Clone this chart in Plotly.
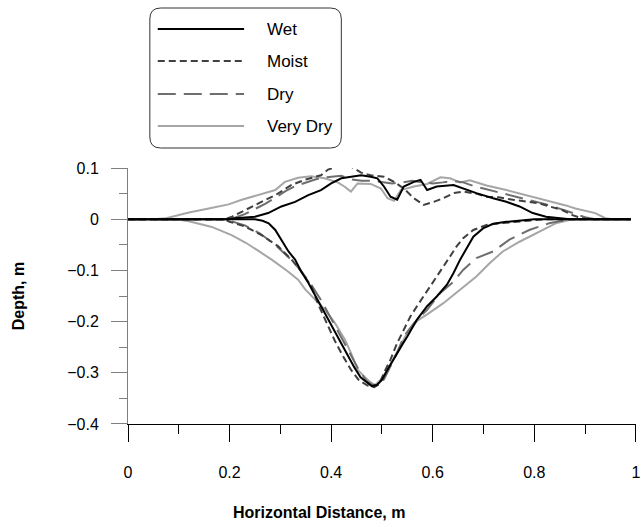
import plotly.graph_objects as go

# ---- data (x = horizontal distance m, y = depth m) ----
wet_bottom_x = [0, 0.25, 0.265, 0.277, 0.29, 0.302, 0.316, 0.329, 0.341, 0.355, 0.368, 0.38, 0.394,
                0.407, 0.419, 0.433, 0.446, 0.458, 0.47, 0.48, 0.49, 0.5, 0.511, 0.52, 0.53, 0.54,
                0.55, 0.569, 0.589, 0.608, 0.628, 0.641, 0.654, 0.667, 0.68, 0.699, 0.719, 0.745,
                0.784, 0.8, 0.99]
wet_bottom_y = [0, 0, -0.003, -0.008, -0.021, -0.04, -0.063, -0.079, -0.102, -0.124, -0.148, -0.17,
                -0.196, -0.219, -0.241, -0.268, -0.29, -0.309, -0.319, -0.326, -0.324, -0.314, -0.294,
                -0.278, -0.261, -0.245, -0.229, -0.196, -0.17, -0.151, -0.128, -0.105, -0.079, -0.057,
                -0.034, -0.018, -0.009, -0.005, -0.001, 0, 0]
wet_top_x = [0, 0.2, 0.211, 0.25, 0.276, 0.302, 0.329, 0.355, 0.38, 0.4, 0.42, 0.439, 0.459, 0.478,
             0.491, 0.504, 0.517, 0.53, 0.543, 0.563, 0.576, 0.589, 0.608, 0.641, 0.66, 0.686, 0.719,
             0.745, 0.771, 0.797, 0.823, 0.849, 0.87, 0.99]
wet_top_y = [0, 0, 0.002, 0.005, 0.012, 0.025, 0.034, 0.047, 0.057, 0.07, 0.08, 0.083, 0.086, 0.083,
             0.08, 0.064, 0.044, 0.038, 0.064, 0.073, 0.077, 0.057, 0.064, 0.067, 0.06, 0.051, 0.041,
             0.034, 0.025, 0.012, 0.005, 0.002, 0, 0]

moist_bottom_x = [0, 0.19, 0.2, 0.23, 0.263, 0.296, 0.322, 0.341, 0.361, 0.374, 0.39, 0.407, 0.423,
                  0.439, 0.455, 0.472, 0.485, 0.495, 0.504, 0.517, 0.53, 0.543, 0.556, 0.569, 0.582,
                  0.595, 0.608, 0.621, 0.634, 0.647, 0.66, 0.68, 0.706, 0.732, 0.764, 0.8, 0.82, 0.99]
moist_bottom_y = [0, 0, -0.005, -0.014, -0.031, -0.053, -0.079, -0.102, -0.131, -0.165, -0.2, -0.237,
                  -0.267, -0.294, -0.315, -0.325, -0.328, -0.322, -0.3, -0.274, -0.242, -0.216, -0.19,
                  -0.17, -0.151, -0.131, -0.112, -0.092, -0.073, -0.053, -0.037, -0.021, -0.011,
                  -0.008, -0.005, -0.001, 0, 0]
moist_top_x = [0, 0.19, 0.205, 0.224, 0.257, 0.29, 0.322, 0.348, 0.38, 0.394, 0.413, 0.439, 0.459,
               0.478, 0.504, 0.524, 0.543, 0.563, 0.582, 0.602, 0.621, 0.641, 0.66, 0.686, 0.706,
               0.73, 0.758, 0.79, 0.81, 0.83, 0.855, 0.875, 0.894, 0.91, 0.99]
moist_top_y = [0, 0, 0.005, 0.015, 0.031, 0.047, 0.067, 0.077, 0.086, 0.097, 0.103, 0.103, 0.091,
               0.086, 0.083, 0.073, 0.06, 0.041, 0.028, 0.034, 0.041, 0.051, 0.054, 0.05, 0.044,
               0.043, 0.038, 0.034, 0.031, 0.025, 0.018, 0.008, 0.002, 0, 0]

dry_bottom_x = [0, 0.19, 0.2, 0.23, 0.26, 0.29, 0.32, 0.34, 0.36, 0.38, 0.395, 0.41, 0.425, 0.44,
                0.455, 0.47, 0.483, 0.495, 0.504, 0.517, 0.53, 0.543, 0.563, 0.589, 0.615, 0.641,
                0.66, 0.686, 0.719, 0.751, 0.79, 0.829, 0.86, 0.88, 0.99]
dry_bottom_y = [0, 0, -0.003, -0.012, -0.028, -0.05, -0.078, -0.1, -0.127, -0.158, -0.185, -0.212,
                -0.24, -0.268, -0.295, -0.316, -0.325, -0.321, -0.313, -0.287, -0.261, -0.229,
                -0.203, -0.177, -0.144, -0.122, -0.099, -0.076, -0.063, -0.04, -0.021, -0.008,
                -0.002, 0, 0]
dry_top_x = [0, 0.19, 0.21, 0.23, 0.25, 0.27, 0.29, 0.31, 0.33, 0.35, 0.37, 0.39, 0.42, 0.44, 0.46,
             0.48, 0.5, 0.52, 0.54, 0.56, 0.58, 0.6, 0.62, 0.64, 0.66, 0.68, 0.7, 0.72, 0.74, 0.76,
             0.78, 0.8, 0.82, 0.84, 0.86, 0.88, 0.9, 0.92, 0.99]
dry_top_y = [0, 0, 0.003, 0.01, 0.02, 0.03, 0.042, 0.055, 0.065, 0.072, 0.078, 0.082, 0.085, 0.078,
             0.075, 0.075, 0.072, 0.07, 0.072, 0.075, 0.072, 0.07, 0.072, 0.075, 0.072, 0.065, 0.06,
             0.055, 0.05, 0.046, 0.04, 0.035, 0.03, 0.024, 0.017, 0.01, 0.004, 0, 0]

vdry_bottom_x = [0, 0.09, 0.101, 0.12, 0.165, 0.204, 0.232, 0.257, 0.283, 0.315, 0.335, 0.349, 0.368,
                 0.388, 0.407, 0.427, 0.439, 0.452, 0.466, 0.478, 0.487, 0.497, 0.511, 0.53, 0.55,
                 0.57, 0.589, 0.621, 0.654, 0.686, 0.712, 0.738, 0.771, 0.81, 0.842, 0.875, 0.99]
vdry_bottom_y = [0, 0, -0.001, -0.004, -0.015, -0.031, -0.046, -0.062, -0.079, -0.102, -0.118,
                 -0.137, -0.157, -0.177, -0.202, -0.235, -0.261, -0.294, -0.308, -0.319, -0.324,
                 -0.314, -0.294, -0.258, -0.222, -0.198, -0.186, -0.164, -0.138, -0.112, -0.086,
                 -0.063, -0.044, -0.024, -0.008, 0, 0]
vdry_top_x = [0, 0.05, 0.075, 0.12, 0.159, 0.198, 0.224, 0.257, 0.29, 0.309, 0.335, 0.36, 0.387,
              0.413, 0.426, 0.439, 0.452, 0.478, 0.498, 0.511, 0.524, 0.537, 0.563, 0.589, 0.615,
              0.634, 0.654, 0.673, 0.706, 0.745, 0.784, 0.823, 0.862, 0.881, 0.92, 0.94, 0.955, 0.99]
vdry_top_y = [0, 0, 0.002, 0.013, 0.021, 0.029, 0.038, 0.047, 0.057, 0.073, 0.081, 0.084, 0.08,
              0.072, 0.064, 0.054, 0.07, 0.069, 0.06, 0.041, 0.036, 0.057, 0.064, 0.069, 0.082,
              0.08, 0.072, 0.076, 0.066, 0.057, 0.047, 0.038, 0.027, 0.021, 0.012, 0.002, 0, 0]

names = ["Wet", "Moist", "Dry", "Very Dry"]
colors = ["#000000", "#404040", "#6e6e6e", "#a6a6a6"]
dashes = ["solid", "7px,4px", "18px,8px", "solid"]

curves = [
    (wet_bottom_x, wet_bottom_y, wet_top_x, wet_top_y),
    (moist_bottom_x, moist_bottom_y, moist_top_x, moist_top_y),
    (dry_bottom_x, dry_bottom_y, dry_top_x, dry_top_y),
    (vdry_bottom_x, vdry_bottom_y, vdry_top_x, vdry_top_y),
]

FONT = "Arial, Liberation Sans, sans-serif"

fig = go.Figure()
# lightest first so the darker lines sit on top
for i in [3, 2, 1, 0]:
    bx, by, tx, ty = curves[i]
    fig.add_trace(go.Scatter(
        x=bx + [None] + tx, y=by + [None] + ty, mode="lines", name=names[i],
        line=dict(color=colors[i], width=2, dash=dashes[i]), showlegend=False,
    ))

W, H = 641, 527
# plot area in pixels: x 128..640, y 168..424
L, R, T, B = 128, 640, 168, 424


def pxx(p):
    return (p - L) / (R - L)


def pxy(p):
    return (B - p) / (B - T)


def rounded_box(x0, y0, x1, y1, r):
    pts = [("M", x0 + r, y0), ("L", x1 - r, y0), ("Q", x1, y0, x1, y0 + r), ("L", x1, y1 - r),
           ("Q", x1, y1, x1 - r, y1), ("L", x0 + r, y1), ("Q", x0, y1, x0, y1 - r),
           ("L", x0, y0 + r), ("Q", x0, y0, x0 + r, y0)]
    out = []
    for p in pts:
        cmd, vals = p[0], p[1:]
        coords = []
        for k in range(0, len(vals), 2):
            coords.append(f"{pxx(vals[k]):.5f},{pxy(vals[k + 1]):.5f}")
        out.append(cmd + " ".join(coords))
    return " ".join(out) + " Z"


# legend box drawn by hand (long line samples like the original)
fig.add_shape(type="path", xref="paper", yref="paper", path=rounded_box(150, 8, 343, 148, 11),
              line=dict(color="#333333", width=1), fillcolor="white", layer="above")
rows = [29, 61, 94, 126]
for i, name in enumerate(names):
    fig.add_shape(type="line", xref="paper", yref="paper",
                  x0=pxx(158), x1=pxx(245), y0=pxy(rows[i]), y1=pxy(rows[i]),
                  line=dict(color=colors[i], width=2, dash=dashes[i]), layer="above")
    fig.add_annotation(x=pxx(266), y=pxy(rows[i]), xref="paper", yref="paper", text=name,
                       showarrow=False, xanchor="left", yanchor="middle",
                       font=dict(family=FONT, size=17, color="black"))

fig.add_annotation(x=pxx(320), y=pxy(512), xref="paper", yref="paper",
                   text="<b>Horizontal Distance, m</b>", showarrow=False,
                   xanchor="center", yanchor="middle", font=dict(family=FONT, size=16, color="black"))

fig.update_layout(
    width=W, height=H,
    margin=dict(l=L, r=W - R, t=T, b=H - B),
    plot_bgcolor="white", paper_bgcolor="white",
    font=dict(family=FONT, size=16, color="black"),
    xaxis=dict(range=[0, 1.0003], tickmode="array", tickvals=[0, 0.2, 0.4, 0.6, 0.8, 1],
               ticktext=["0", "0.2", "0.4", "0.6", "0.8", "1"], ticklabeloverflow="allow",
               showgrid=False, zeroline=False,
               showline=True, linecolor="black", linewidth=1,
               ticks="outside", ticklen=17, tickcolor="black", ticklabelstandoff=17,
               minor=dict(ticks="outside", ticklen=9, tickvals=[0.1, 0.3, 0.5, 0.7, 0.9],
                          tickcolor="black")),
    yaxis=dict(range=[-0.4001, 0.1001], tick0=0, dtick=0.1, showgrid=False, zeroline=False,
               showline=True, linecolor="#7f7f7f", linewidth=1,
               ticks="outside", ticklen=16, tickcolor="#7f7f7f", ticklabelstandoff=9,
               minor=dict(ticks="outside", ticklen=8, dtick=0.05, tickcolor="#7f7f7f"),
               title=dict(text="<b>Depth, m</b>", standoff=38, font=dict(size=16))),
)

# drop the browser's default 8px page margin so the chart sits at the top-left corner
fig.write_html("out.html", config={"displayModeBar": False},
               post_script="document.body.style.margin='0';"
                           "document.body.style.overflow='hidden';")
